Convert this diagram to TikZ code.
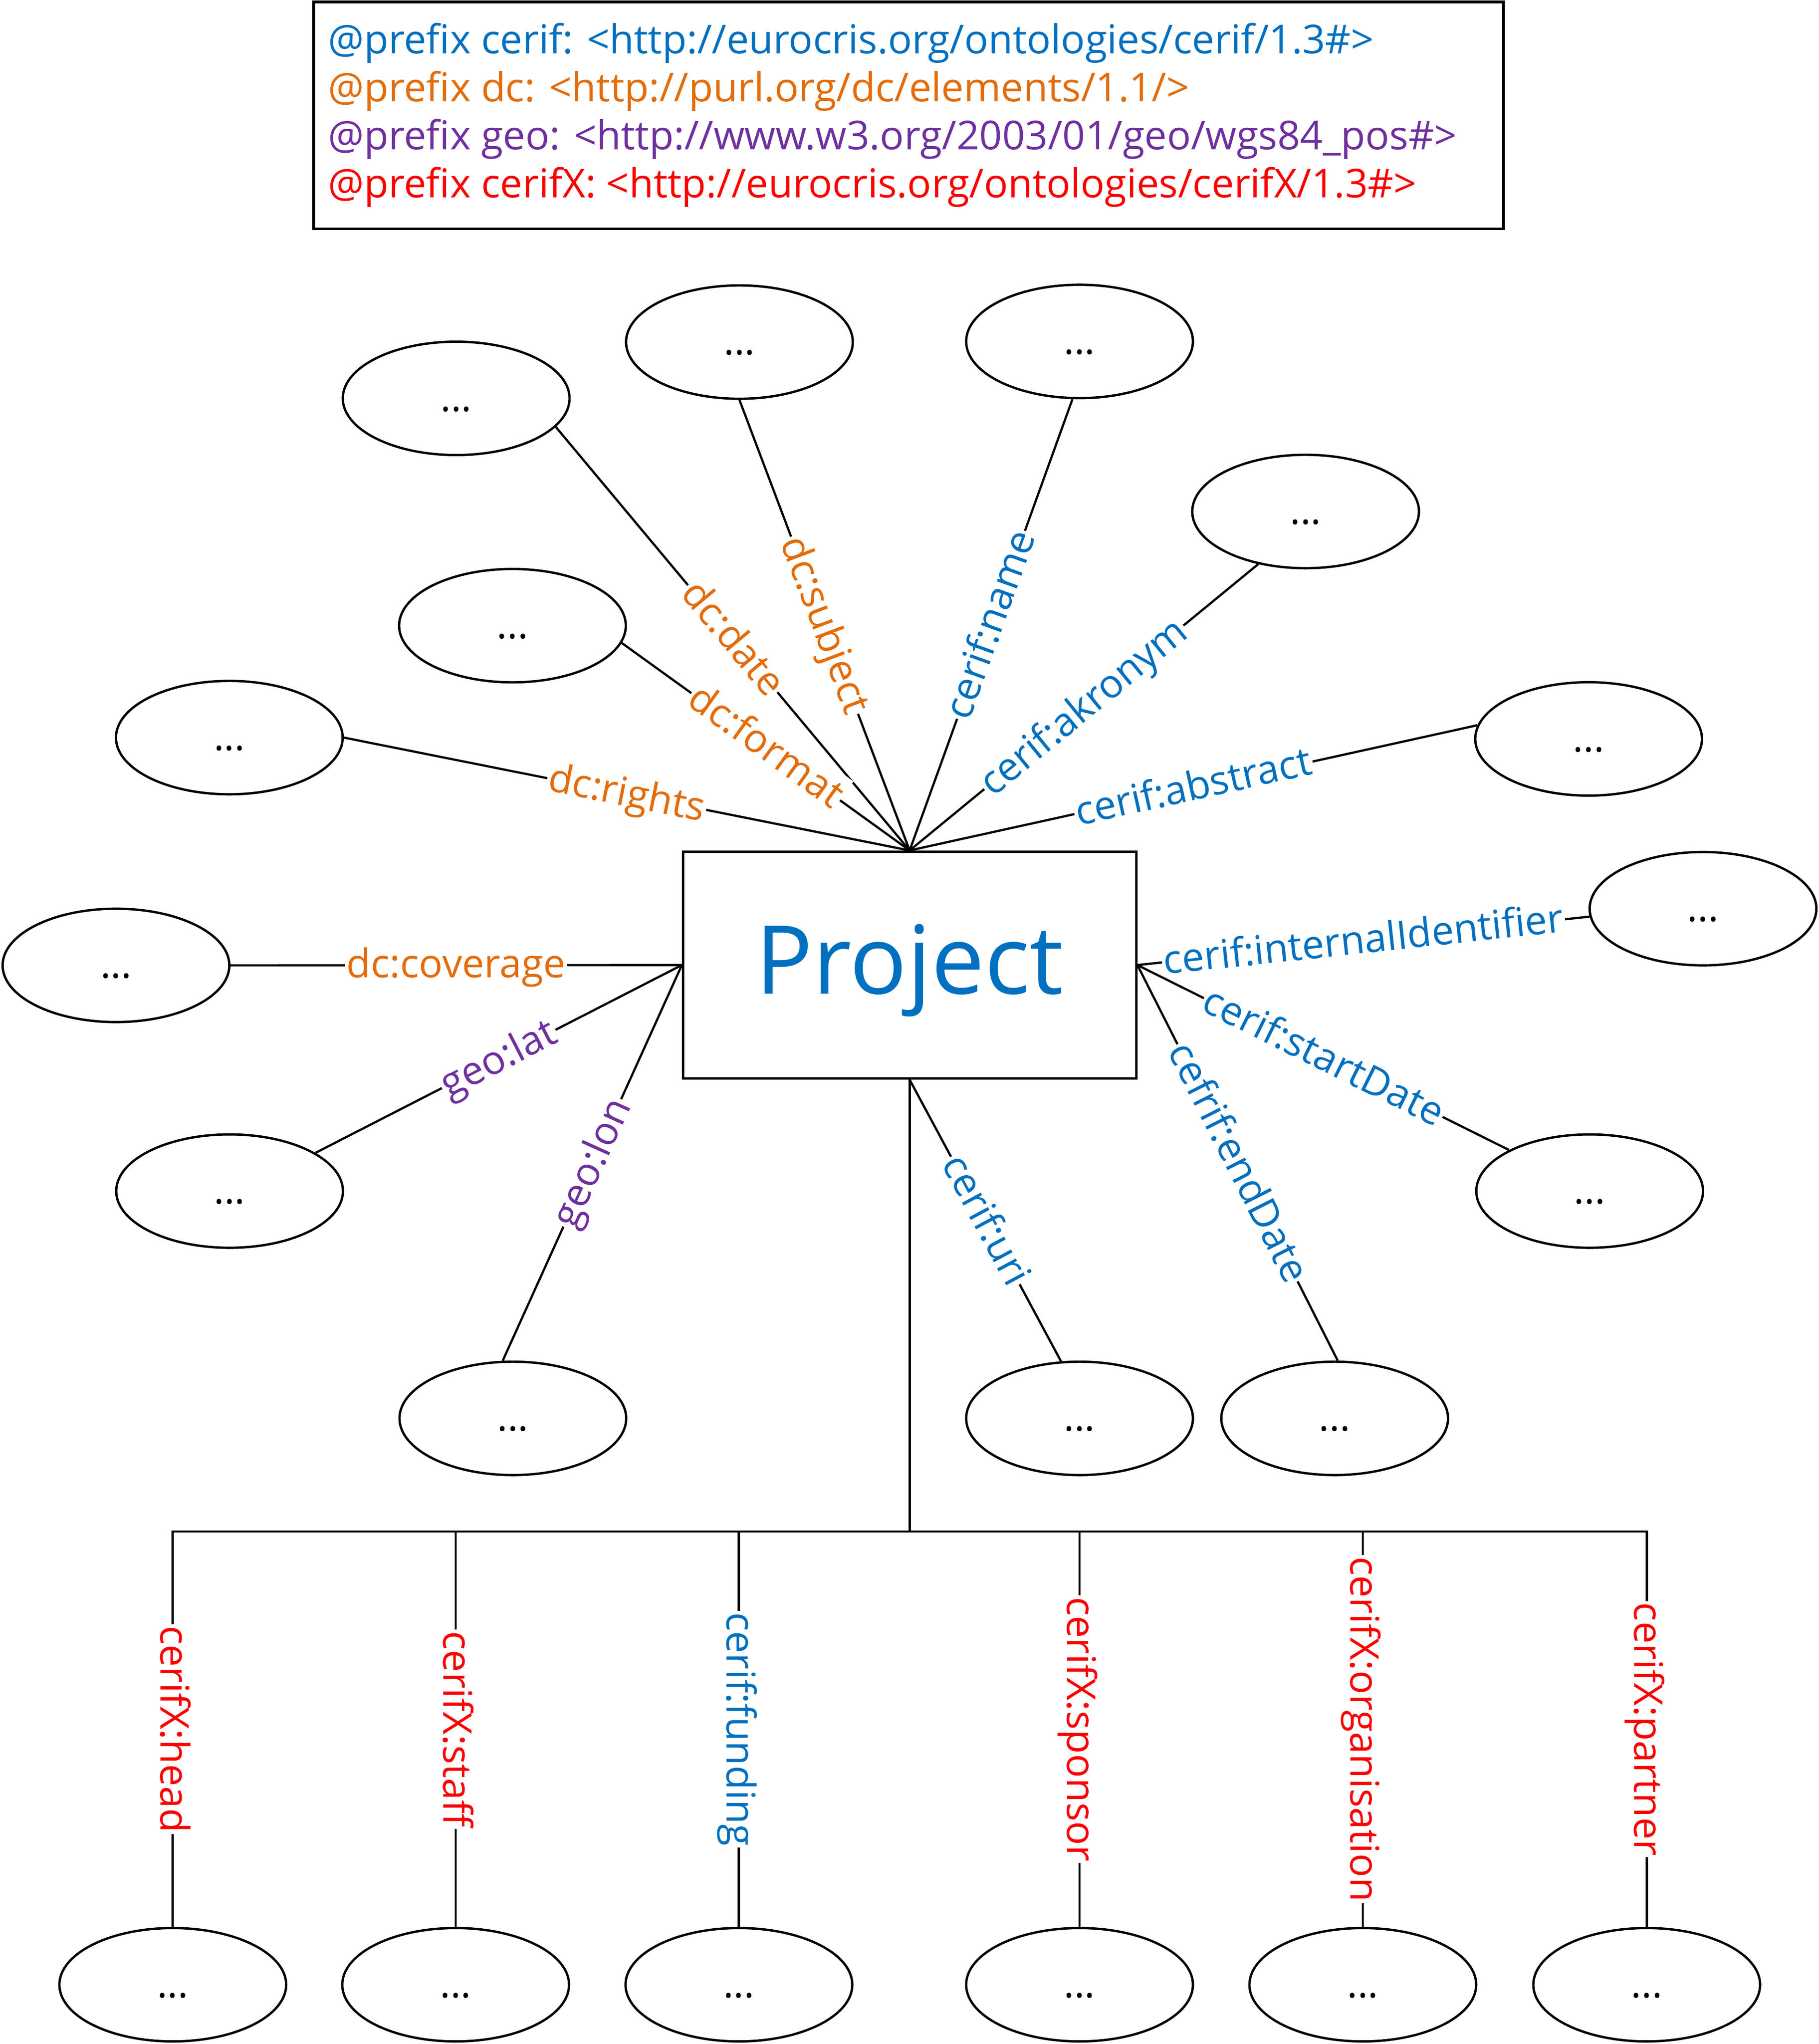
\documentclass[tikz,border=0pt]{standalone}
\usepackage{fontspec}
\setmainfont{Open Sans}
\usetikzlibrary{shapes.geometric}
\definecolor{cblue}{HTML}{0070C0}
\definecolor{corange}{HTML}{E46C0A}
\definecolor{cpurple}{HTML}{7030A0}
\definecolor{cred}{HTML}{FF0000}
\begin{document}
\begin{tikzpicture}[x=0.5pt,y=-0.5pt,
  val/.style={ellipse, draw, line width=0.9pt, minimum width=87pt, minimum height=43.5pt,
    inner sep=0pt, font=\fontsize{15}{18}\selectfont, text height=11pt, text depth=1.2pt},
  conn/.style={line width=0.85pt},
  lbl/.style={fill=white, inner sep=0.6pt, font=\fontsize{15.2}{18}\selectfont,
    text height=13pt, text depth=3.6pt},
  pline/.style={anchor=base west, inner sep=0pt, font=\fontsize{15.3}{18}\selectfont},
  cb/.style={text=cblue}, co/.style={text=corange}, cp/.style={text=cpurple}, cr/.style={text=cred}
]
\fill[white] (0,0) rectangle (1396,1568.5);
\useasboundingbox (0,0) rectangle (1396,1568.5);

% prefix box
\node[draw, line width=1pt, minimum width=456.65pt, minimum height=87.1pt, inner sep=0pt] (pfx) at (697.25,88.6) {};
\node[pline, cb] (p1) at (251.5,41.2) {@prefix cerif: <http://eurocris.org/ontologies/cerif/1.3\#>};
\node[pline, co] (p2) at (251.5,78.0) {@prefix dc: <http://purl.org/dc/elements/1.1/>};
\node[pline, cp] (p3) at (251.5,114.9) {@prefix geo: <http://www.w3.org/2003/01/geo/wgs84\_pos\#>};
\node[pline, cr] (p4) at (251.5,151.7) {@prefix cerifX: <http://eurocris.org/ontologies/cerifX/1.3\#>};

% central node
\node[draw, line width=0.9pt, minimum width=173.9pt, minimum height=87.05pt, inner sep=0pt,
  font=\fontsize{36.5}{40}\selectfont, text=cblue, text height=27pt, text depth=4.9pt] (proj) at (698.1,740.55) {Project};

% value ellipses
\node[val] (edate) at (350.1,305.7) {...};
\node[val] (esubj) at (567.5,262.5) {...};
\node[val] (ename) at (828.5,262.0) {...};
\node[val] (eakr) at (1002.0,392.5) {...};
\node[val] (efmt) at (393.3,480.1) {...};
\node[val] (erights) at (176.0,566.0) {...};
\node[val] (eabs) at (1219.2,567.0) {...};
\node[val] (ecov) at (89.0,740.8) {...};
\node[val] (eiid) at (1307.0,697.3) {...};
\node[val] (elat) at (176.2,914.0) {...};
\node[val] (esd) at (1220.0,914.0) {...};
\node[val] (elon) at (393.6,1088.4) {...};
\node[val] (euri) at (828.5,1088.4) {...};
\node[val] (eed) at (1024.3,1088.4) {...};

\node[val] (f1) at (132.6,1523) {...};
\node[val] (f2) at (349.7,1523) {...};
\node[val] (f3) at (567.1,1523) {...};
\node[val] (f4) at (828.5,1523) {...};
\node[val] (f5) at (1045.9,1523) {...};
\node[val] (f6) at (1263.8,1523) {...};

% top connectors
\draw[conn] (edate.-16) -- node[lbl, sloped, co] {dc:date} (proj.north);
\draw[conn] (esubj.south) -- node[lbl, sloped, co] {dc:subject} (proj.north);
\draw[conn] (ename.-97) -- node[lbl, sloped, cb] {cerif:name} (proj.north);
\draw[conn] (eakr.-132) -- node[lbl, sloped, cb] {cerif:akronym} (proj.north);
\draw[conn] (efmt.-9) -- node[lbl, sloped, co] {dc:format} (proj.north);
\draw[conn] (erights.east) -- node[lbl, sloped, co] {dc:rights} (proj.north);
\draw[conn] (eabs.173) -- node[lbl, sloped, cb] {cerif:abstract} (proj.north);

% left connectors
\draw[conn] (ecov.east) -- node[lbl, co] {dc:coverage} (proj.west);
\draw[conn] (elat.24) -- node[lbl, sloped, cp] {geo:lat} (proj.west);
\draw[conn] (elon.100) -- node[lbl, sloped, cp] {geo:lon} (proj.west);

% right connectors
\draw[conn] (proj.east) -- node[lbl, sloped, cb] {cerif:internalIdentifier} (eiid.-176);
\draw[conn] (proj.east) -- node[lbl, sloped, cb] {cerif:startDate} (esd.153);
\draw[conn] (proj.east) -- node[lbl, sloped, cb] {cefrif:endDate} (eed.87);
\draw[conn] (proj.south) -- node[lbl, sloped, cb] {cerif:uri} (euri.108);

% bottom tree
\coordinate (jn) at (698.1,1175.2);
\coordinate (b1) at (132.6,1175.2);
\coordinate (b2) at (349.7,1175.2);
\coordinate (b3) at (567.1,1175.2);
\coordinate (b4) at (828.5,1175.2);
\coordinate (b5) at (1045.9,1175.2);
\coordinate (b6) at (1263.8,1175.2);
\draw[conn] (proj.south) -- (jn);
\draw[conn] (f1.north) -- node[lbl, rotate=-90, cr] {cerifX:head} (b1) -- (b6)
  -- node[lbl, rotate=-90, cr] {cerifX:partner} (f6.north);
\draw[conn] (b2) -- node[lbl, rotate=-90, cr] {cerifX:staff} (f2.north);
\draw[conn] (b3) -- node[lbl, rotate=-90, cb] {cerif:funding} (f3.north);
\draw[conn] (b4) -- node[lbl, rotate=-90, cr] {cerifX:sponsor} (f4.north);
\draw[conn] (b5) -- node[lbl, rotate=-90, cr] {cerifX:organisation} (f5.north);
\end{tikzpicture}
\end{document}
